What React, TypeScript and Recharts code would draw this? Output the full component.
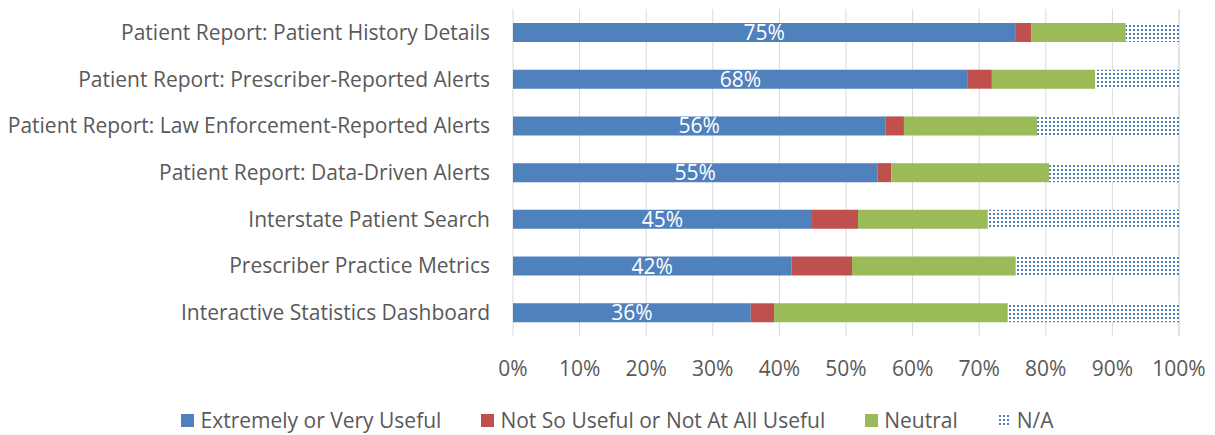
import { Bar, BarChart, CartesianGrid, LabelList, Legend, XAxis, YAxis } from "recharts";

const categories = [
  "Patient Report: Patient History Details",
  "Patient Report: Prescriber-Reported Alerts",
  "Patient Report: Law Enforcement-Reported Alerts",
  "Patient Report: Data-Driven Alerts",
  "Interstate Patient Search",
  "Prescriber Practice Metrics",
  "Interactive Statistics Dashboard",
];
const veryUseful = [75.4, 68.3, 55.9, 54.7, 44.9, 41.8, 35.7];
const notUseful = [2.4, 3.6, 2.8, 2.1, 6.9, 9.1, 3.5];
const neutral = [14.2, 15.5, 20.0, 23.7, 19.5, 24.6, 35.1];
const na = [8.0, 12.6, 21.3, 19.5, 28.7, 24.5, 25.7];
const xTicks = [0, 10, 20, 30, 40, 50, 60, 70, 80, 90, 100];

const data = categories.map((name, i) => ({
  name,
  very: veryUseful[i],
  not: notUseful[i],
  neutral: neutral[i],
  na: na[i],
}));

const FONT = "'Open Sans', Lato, sans-serif";
const TEXT = "#595959";

const legendItems = [
  { label: "Extremely or Very Useful", fill: "#4F81BD" },
  { label: "Not So Useful or Not At All Useful", fill: "#C0504D" },
  { label: "Neutral", fill: "#9BBB59" },
  { label: "N/A", fill: "url(#naDots)" },
];

function renderLegend() {
  return (
    <div
      style={{
        display: "flex",
        justifyContent: "center",
        gap: 40,
        position: "relative",
        left: 24,
        fontFamily: FONT,
        fontSize: 21,
        color: TEXT,
      }}
    >
      {legendItems.map((it) => (
        <div key={it.label} style={{ display: "flex", alignItems: "center" }}>
          <svg width={13} height={13} style={{ marginRight: 6 }}>
            <rect width={13} height={13} fill={it.fill} />
          </svg>
          <span>{it.label}</span>
        </div>
      ))}
    </div>
  );
}

export default function App() {
  return (
    <BarChart
      width={1199}
      height={427}
      data={data}
      layout="vertical"
      margin={{ top: 1, right: 28, bottom: 1, left: 0 }}
      barSize={19}
    >
      <defs>
        <pattern id="naDots" width={4} height={4} patternUnits="userSpaceOnUse">
          <rect width={4} height={4} fill="#fff" />
          <rect x={1} y={1} width={2} height={2} fill="#4F81BD" />
        </pattern>
      </defs>
      <CartesianGrid horizontal={false} stroke="#D9D9D9" />
      <XAxis
        type="number"
        domain={[0, 100]}
        ticks={xTicks}
        tickFormatter={(v) => `${v}%`}
        axisLine={false}
        tickLine={false}
        tickSize={0}
        tickMargin={25}
        height={70}
        tick={{ fill: TEXT, fontSize: 21, fontFamily: FONT }}
        interval={0}
      />
      <YAxis
        type="category"
        dataKey="name"
        width={505}
        axisLine={false}
        tickLine={false}
        tickSize={0}
        tickMargin={23}
        tick={{ fill: TEXT, fontSize: 21, fontFamily: FONT }}
        interval={0}
      />
      <Legend verticalAlign="bottom" content={renderLegend} />
      <Bar dataKey="very" stackId="a" fill="#4F81BD" isAnimationActive={false}>
        <LabelList
          dataKey="very"
          position="center"
          formatter={(v: number) => `${Math.round(v)}%`}
          style={{ fill: "#fff", fontSize: 21, fontFamily: FONT }}
        />
      </Bar>
      <Bar dataKey="not" stackId="a" fill="#C0504D" isAnimationActive={false} />
      <Bar dataKey="neutral" stackId="a" fill="#9BBB59" isAnimationActive={false} />
      <Bar dataKey="na" stackId="a" fill="url(#naDots)" isAnimationActive={false} />
    </BarChart>
  );
}
